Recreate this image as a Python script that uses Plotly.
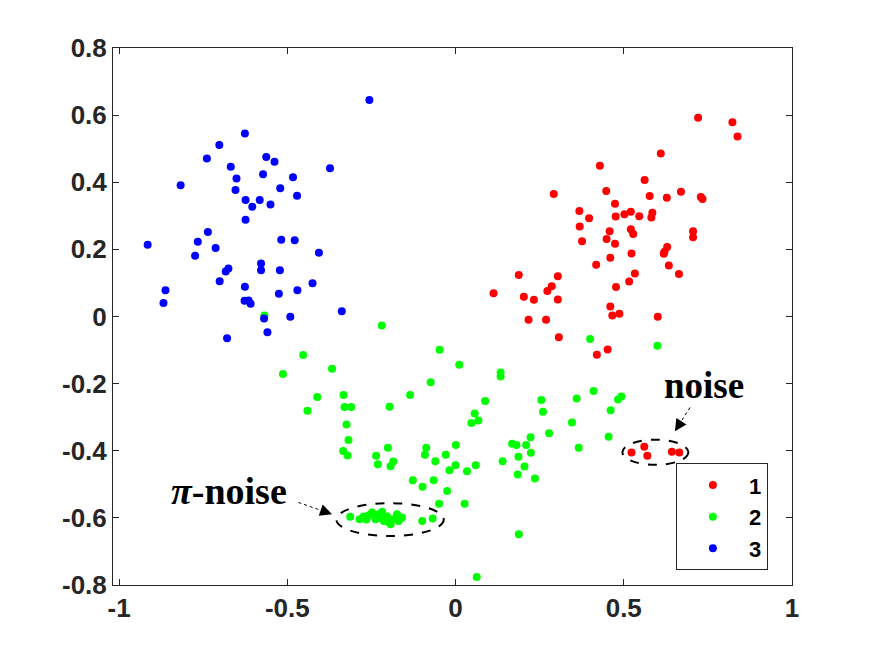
import plotly.graph_objects as go

# ---------------- data ----------------
labels = ["1", "2", "3"]
colors = ["#FF0000", "#00FF00", "#0000FF"]

x1 = [0.721, 0.823, 0.838, 0.610, 0.429, 0.562, 0.292, 0.448, 0.577, 0.670,
      0.628, 0.729, 0.734, 0.474, 0.368, 0.397, 0.476, 0.502, 0.521, 0.546,
      0.585, 0.582, 0.369, 0.458, 0.521, 0.528, 0.706, 0.706, 0.449, 0.376,
      0.474, 0.523, 0.629, 0.621, 0.619, 0.460, 0.418, 0.634, 0.664, 0.533,
      0.188, 0.304, 0.516, 0.286, 0.273, 0.477, 0.113, 0.203, 0.233, 0.304,
      0.460, 0.466, 0.487, 0.601, 0.217, 0.269, 0.307, 0.452, 0.420,
      0.523, 0.561, 0.570, 0.643, 0.665]
y1 = [0.592, 0.579, 0.536, 0.486, 0.449, 0.407, 0.365, 0.374, 0.359, 0.372,
      0.354, 0.356, 0.350, 0.336, 0.314, 0.293, 0.298, 0.305, 0.312, 0.299,
      0.309, 0.295, 0.268, 0.254, 0.260, 0.246, 0.254, 0.236, 0.231, 0.224,
      0.217, 0.188, 0.207, 0.193, 0.187, 0.175, 0.154, 0.152, 0.127, 0.128,
      0.124, 0.120, 0.104, 0.090, 0.076, 0.088, 0.069, 0.059, 0.050, 0.051,
      0.030, 0.003, 0.008, -0.001, -0.010, -0.010, -0.062, -0.098, -0.114,
      -0.405, -0.388, -0.415, -0.403, -0.405]

x2 = [-0.568, -0.219, -0.047, 0.400, 0.600, 0.493, 0.483, 0.461, 0.455, -0.453,
      -0.513, -0.367, 0.011, -0.074, 0.134, 0.134, -0.411, -0.440, -0.333, -0.330,
      -0.310, -0.196, -0.135, 0.088, 0.057, 0.047, 0.068, -0.324, -0.318, -0.334,
      -0.321, -0.236, -0.231, -0.201, -0.185, -0.193, -0.087, -0.091, -0.060, -0.029,
      0.001, 0.000, -0.018, 0.034, 0.060, -0.127, -0.098, -0.065, -0.025, -0.049,
      0.027, -0.099, -0.068, -0.313, 0.188, 0.063, 0.255, 0.260, 0.360, 0.410,
      0.346, 0.366, 0.278, 0.168, 0.181, 0.210, 0.223, 0.224, 0.187, 0.140,
      0.205, 0.185, 0.236,
      -0.285, -0.273, -0.258, -0.248, -0.238, -0.228, -0.218, -0.213, -0.203, -0.193,
      -0.184, -0.174, -0.169, -0.159, -0.265, -0.225, -0.200, -0.235]
y2 = [0.003, -0.027, -0.099, -0.067, -0.087, -0.238, -0.247, -0.279, -0.358, -0.115,
      -0.171, -0.156, -0.144, -0.196, -0.167, -0.179, -0.240, -0.281, -0.234, -0.270,
      -0.270, -0.269, -0.234, -0.252, -0.289, -0.317, -0.310, -0.322, -0.368, -0.401,
      -0.414, -0.415, -0.440, -0.391, -0.432, -0.446, -0.391, -0.412, -0.431, -0.412,
      -0.383, -0.443, -0.458, -0.461, -0.443, -0.488, -0.507, -0.488, -0.520, -0.558,
      -0.558, -0.609, -0.602, -0.597, -0.649, -0.776, -0.249, -0.284, -0.244, -0.222,
      -0.316, -0.391, -0.348, -0.379, -0.383, -0.383, -0.360, -0.406, -0.418, -0.431,
      -0.447, -0.471, -0.483,
      -0.604, -0.596, -0.592, -0.584, -0.604, -0.589, -0.582, -0.609, -0.596, -0.619,
      -0.604, -0.589, -0.609, -0.599, -0.605, -0.600, -0.612, -0.593]

x3 = [-0.256, -0.626, -0.702, -0.739, -0.5625, -0.538, -0.668, -0.373, -0.572, -0.651,
      -0.483, -0.817, -0.654, -0.521, -0.471, -0.624, -0.582, -0.604, -0.550, -0.624,
      -0.736, -0.915, -0.766, -0.713, -0.774, -0.518, -0.478, -0.406, -0.578, -0.578,
      -0.675, -0.683, -0.522, -0.701, -0.626, -0.425, -0.862, -0.470, -0.525, -0.868,
      -0.627, -0.615, -0.609, -0.338, -0.569, -0.491, -0.559, -0.679]
y3 = [0.645, 0.545, 0.511, 0.471, 0.475, 0.461, 0.446, 0.442, 0.424, 0.411,
      0.415, 0.391, 0.377, 0.382, 0.360, 0.347, 0.347, 0.327, 0.334, 0.288,
      0.252, 0.214, 0.223, 0.204, 0.181, 0.229, 0.227, 0.190, 0.158, 0.138,
      0.143, 0.134, 0.138, 0.105, 0.089, 0.099, 0.078, 0.078, 0.068, 0.040,
      0.047, 0.048, 0.038, 0.016, -0.006, -0.001, -0.047, -0.065]

xticks = [-1, -0.5, 0, 0.5, 1]
xticklabels = ["-1", "-0.5", "0", "0.5", "1"]
yticks = [-0.8, -0.6, -0.4, -0.2, 0, 0.2, 0.4, 0.6, 0.8]
yticklabels = ["-0.8", "-0.6", "-0.4", "-0.2", "0", "0.2", "0.4", "0.6", "0.8"]

# ---------------- figure ----------------
fig = go.Figure()
for xs, ys, lab, col in zip([x1, x2, x3], [y1, y2, y3], labels, colors):
    fig.add_trace(go.Scatter(x=xs, y=ys, mode="markers", name="<b>%s</b>" % lab,
                             marker=dict(color=col, size=8, line=dict(width=0))))

axis_common = dict(showline=True, linecolor="#262626", linewidth=1, mirror="ticks",
                   ticks="inside", ticklen=6, tickcolor="#262626", showgrid=False,
                   zeroline=False,
                   tickfont=dict(family="Liberation Sans, Arial", size=26, color="#262626"))

fig.update_xaxes(range=[-1.018, 1.0], tickvals=xticks,
                 ticktext=["<b>%s</b>" % t for t in xticklabels], **axis_common)
fig.update_yaxes(range=[-0.8, 0.8], tickvals=yticks,
                 ticktext=["<b>%s</b>" % t for t in yticklabels], **axis_common)

# ellipses
fig.add_shape(type="circle", xref="x", yref="y", x0=-0.354, x1=-0.035, y0=-0.654, y1=-0.556,
              line=dict(color="black", width=2, dash="dash"))
fig.add_shape(type="circle", xref="x", yref="y", x0=0.496, x1=0.692, y0=-0.442, y1=-0.367,
              line=dict(color="black", width=2, dash="dash"))

# dotted arrow shafts
fig.add_shape(type="line", xref="x", yref="y", x0=-0.467, y0=-0.554, x1=-0.367, y1=-0.589,
              line=dict(color="black", width=1, dash="dot"))
fig.add_shape(type="line", xref="x", yref="y", x0=0.697, y0=-0.271, x1=0.652, y1=-0.342,
              line=dict(color="black", width=1, dash="dot"))

# arrow heads
fig.add_annotation(x=-0.367, y=-0.589, xref="x", yref="y", text="", showarrow=True,
                   ax=-9.4, ay=-3.3, arrowhead=2, arrowsize=2, arrowwidth=1.2, arrowcolor="black")
fig.add_annotation(x=0.652, y=-0.342, xref="x", yref="y", text="", showarrow=True,
                   ax=5.4, ay=-8.4, arrowhead=2, arrowsize=2, arrowwidth=1.2, arrowcolor="black")

# labels
fig.add_annotation(x=0.738, y=-0.205, xref="x", yref="y", text="<b>noise</b>", showarrow=False,
                   font=dict(family="Liberation Serif, Times New Roman", size=37, color="black"))
fig.add_annotation(x=-0.673, y=-0.521, xref="x", yref="y", text="<b><i>π</i>-noise</b>", showarrow=False,
                   font=dict(family="Liberation Serif, Times New Roman", size=38, color="black"))

fig.update_layout(
    width=875, height=656,
    margin=dict(l=105, r=91, t=40, b=79),
    paper_bgcolor="white", plot_bgcolor="white",
    showlegend=True,
    legend=dict(x=0.829, y=0.2266, xanchor="left", yanchor="top",
                bgcolor="white", bordercolor="#262626", borderwidth=1,
                itemwidth=62,
                font=dict(family="Liberation Sans, Arial", size=22, color="black")),
)

fig.write_html("out.html")
